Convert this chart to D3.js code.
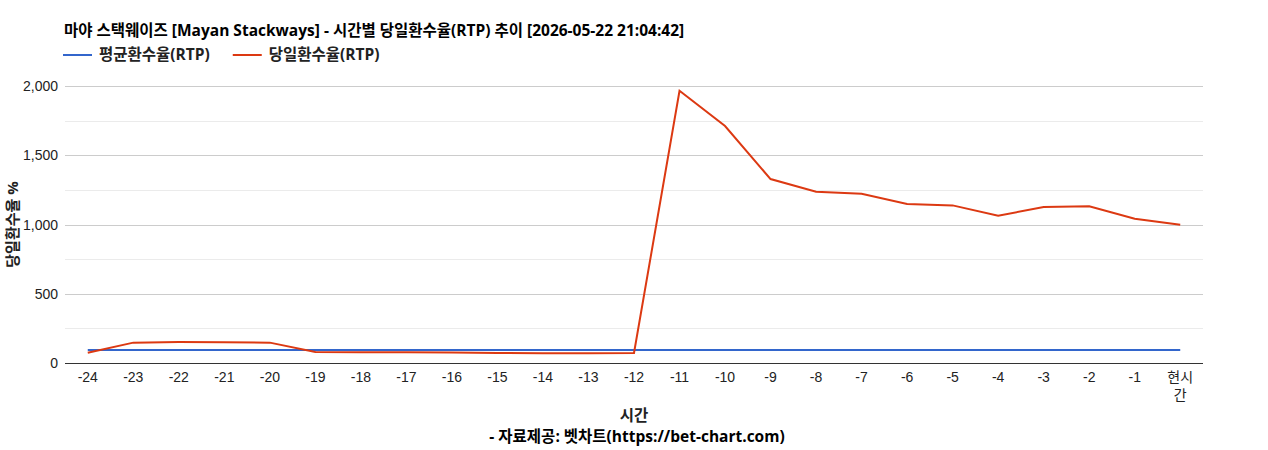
<!DOCTYPE html>
<html>
<head>
<meta charset="utf-8">
<script src="https://cdn.jsdelivr.net/npm/d3@7"></script>
<style>
  body { margin: 0; background: #fff; }
  text { font-family: "Liberation Sans", Arial, "Noto Sans CJK KR", sans-serif; }
  .label { font-family: "Open Sans", "Noto Sans CJK KR", sans-serif; font-weight: bold; font-size: 15.5px; }
</style>
</head>
<body>
<div id="chart"></div>
<script>
const hours = ['-24', '-23', '-22', '-21', '-20', '-19', '-18', '-17', '-16', '-15', '-14', '-13',
  '-12', '-11', '-10', '-9', '-8', '-7', '-6', '-5', '-4', '-3', '-2', '-1', '현시간']
const avgRtp = [94, 94, 94, 94, 94, 94, 94, 94, 94, 94, 94, 94,
  94, 94, 94, 94, 94, 94, 94, 94, 94, 94, 94, 94, 94]
const dayRtp = [74, 147, 152, 150, 147, 79, 77, 77, 76, 72, 70, 71,
  72, 1966, 1711, 1328, 1237, 1222, 1148, 1138, 1064, 1126, 1131, 1042, 999]
const yTicks = [0, 500, 1000, 1500, 2000]
const yMinor = [250, 750, 1250, 1750]

const seriesNames = ['평균환수율(RTP)', '당일환수율(RTP)']
const colours = ['#3366cc', '#dc3912']
const chartTitle = '마야 스택웨이즈 [Mayan Stackways] - 시간별 당일환수율(RTP) 추이 [2026-05-22 21:04:42]'

const width = 1268
const height = 450
const margin = { top: 86, right: 65, bottom: 87, left: 65 }

const svg = d3.select('#chart')
  .append('svg')
  .attr('width', width)
  .attr('height', height)

const x = d3.scaleBand()
  .domain(hours)
  .range([margin.left, width - margin.right])

const y = d3.scaleLinear()
  .domain([0, 2000])
  .range([height - margin.bottom, margin.top])

// gridlines
svg.append('g')
  .selectAll('line')
  .data(yMinor)
  .enter()
  .append('line')
  .attr('x1', margin.left)
  .attr('x2', width - margin.right)
  .attr('y1', d => Math.round(y(d)) + 0.5)
  .attr('y2', d => Math.round(y(d)) + 0.5)
  .style('stroke', '#ebebeb')

svg.append('g')
  .selectAll('line')
  .data(yTicks.slice(1))
  .enter()
  .append('line')
  .attr('x1', margin.left)
  .attr('x2', width - margin.right)
  .attr('y1', d => Math.round(y(d)) + 0.5)
  .attr('y2', d => Math.round(y(d)) + 0.5)
  .style('stroke', '#cccccc')

// y tick labels
svg.append('g')
  .selectAll('text')
  .data(yTicks)
  .enter()
  .append('text')
  .attr('x', margin.left - 7)
  .attr('y', d => y(d) + 5)
  .attr('text-anchor', 'end')
  .style('font-size', '14px')
  .style('fill', '#222')
  .text(d => d3.format(',')(d))

// x tick labels
const xLabels = svg.append('g')
  .selectAll('text')
  .data(hours)
  .enter()
  .append('text')
  .attr('text-anchor', 'middle')
  .style('font-size', '14px')
  .style('fill', '#222')

xLabels.each(function (d) {
  const t = d3.select(this)
  const cx = x(d) + x.bandwidth() / 2
  const parts = d.length > 2 && !d.startsWith('-') ? [d.slice(0, 2), d.slice(2)] : [d]
  parts.forEach((p, i) => {
    t.append('tspan')
      .attr('x', cx)
      .attr('y', height - margin.bottom + 19 + i * 18)
      .text(p)
  })
})

// lines
const line = d3.line()
  .x((d, i) => x(hours[i]) + x.bandwidth() / 2)
  .y(d => y(d))

;[avgRtp, dayRtp].forEach((s, i) => {
  svg.append('path')
    .datum(s)
    .attr('d', line)
    .style('fill', 'none')
    .style('stroke', colours[i])
    .style('stroke-width', 2)
})

// baseline
svg.append('line')
  .attr('x1', margin.left)
  .attr('x2', width - margin.right)
  .attr('y1', Math.round(y(0)) + 0.5)
  .attr('y2', Math.round(y(0)) + 0.5)
  .style('stroke', '#333')

// title
svg.append('text')
  .attr('class', 'label')
  .attr('x', 64)
  .attr('y', 36)
  .style('fill', '#000')
  .text(chartTitle)

// legend
let legendX = 63
seriesNames.forEach((name, i) => {
  const g = svg.append('g').attr('transform', `translate(${legendX},55)`)
  g.append('line')
    .attr('x1', 0)
    .attr('x2', 29)
    .style('stroke', colours[i])
    .style('stroke-width', 2)
  const t = g.append('text')
    .attr('class', 'label')
    .attr('x', 36)
    .attr('y', 5)
    .style('fill', '#222')
    .text(name)
  legendX += 36 + t.node().getComputedTextLength() + 23
})

// axis titles
svg.append('text')
  .attr('class', 'label')
  .attr('transform', `translate(18,${(margin.top + height - margin.bottom) / 2}) rotate(-90)`)
  .attr('text-anchor', 'middle')
  .style('font-size', '15px')
  .style('fill', '#222')
  .text('당일환수율 %')

svg.append('text')
  .attr('class', 'label')
  .attr('x', 634)
  .attr('y', 421)
  .attr('text-anchor', 'middle')
  .style('fill', '#222')
  .text('시간')

svg.append('text')
  .attr('class', 'label')
  .attr('x', 637)
  .attr('y', 442)
  .attr('text-anchor', 'middle')
  .style('fill', '#000')
  .text('- 자료제공: 벳차트(https://bet-chart.com)')
</script>
</body>
</html>
